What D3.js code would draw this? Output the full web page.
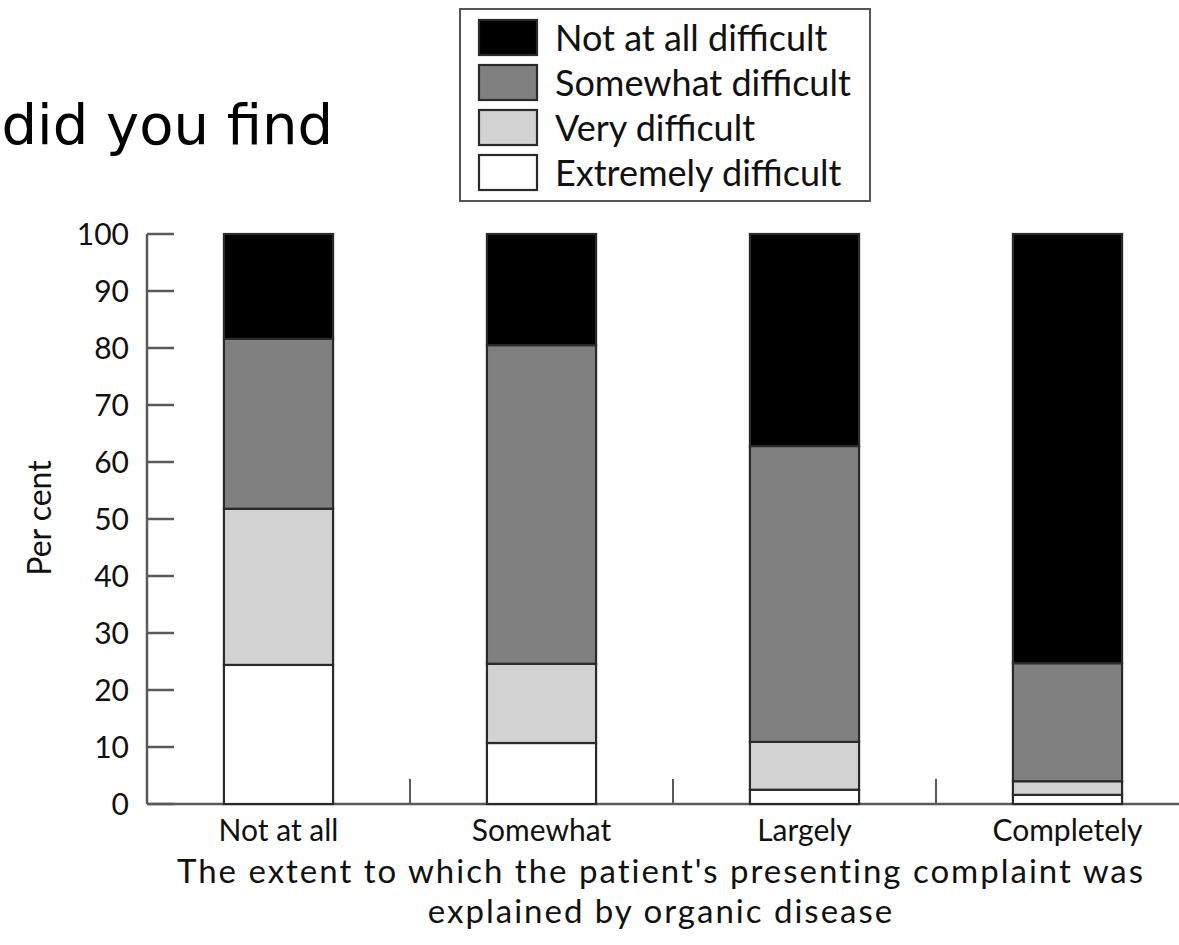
<!DOCTYPE html>
<html><head><meta charset="utf-8">
<script src="https://cdn.jsdelivr.net/npm/d3@7"></script>
<style>body{margin:0;background:#fff}svg{display:block}</style>
</head><body>
<svg id="c" width="1179" height="945"></svg>
<script>
const categories = ["Not at all", "Somewhat", "Largely", "Completely"];
const seriesNames = ["Extremely difficult", "Very difficult", "Somewhat difficult", "Not at all difficult"];
const extremely = [24.4, 10.7, 2.5, 1.6];
const very = [27.4, 13.9, 8.4, 2.4];
const somewhat = [29.8, 55.9, 51.9, 20.7];
const notAtAll = [18.4, 19.5, 37.2, 75.3];
const yTicks = [0, 10, 20, 30, 40, 50, 60, 70, 80, 90, 100];
const legendOrder = ["Not at all difficult", "Somewhat difficult", "Very difficult", "Extremely difficult"];
const colors = {"Not at all difficult": "#000000", "Somewhat difficult": "#808080", "Very difficult": "#d2d2d2", "Extremely difficult": "#ffffff"};

const rows = categories.map((c, i) => ({cat: c, "Extremely difficult": extremely[i], "Very difficult": very[i], "Somewhat difficult": somewhat[i], "Not at all difficult": notAtAll[i]}));
const stack = d3.stack().keys(seriesNames)(rows);

const svg = d3.select("#c");
const font = "Lato, 'Open Sans', sans-serif";
const x = d3.scaleBand().domain(categories).range([147, 1199]).paddingInner(0.585).paddingOuter(0.2925);
const y = d3.scaleLinear().domain([0, 100]).range([804, 234]);

// title fragment
svg.append("text").attr("x", 333).attr("y", 144).attr("text-anchor", "end")
  .attr("font-family", "'DejaVu Sans', Verdana, sans-serif").attr("font-size", 56).attr("fill", "#000")
  .text("did you find");

// y axis
const axisColor = "#5a5a5a";
svg.append("line").attr("x1", 147).attr("x2", 147).attr("y1", y(100)).attr("y2", y(0)).attr("stroke", axisColor).attr("stroke-width", 2.5);
svg.selectAll(".yt").data(yTicks).enter().append("line")
  .attr("x1", 147).attr("x2", 174).attr("y1", d => y(d)).attr("y2", d => y(d)).attr("stroke", axisColor).attr("stroke-width", 2.5);
svg.selectAll(".yl").data(yTicks).enter().append("text")
  .attr("x", 129).attr("y", d => y(d)).attr("dy", "0.36em").attr("text-anchor", "end")
  .attr("font-family", font).attr("font-size", 30).attr("fill", "#111").text(d => d);

// x baseline
svg.append("line").attr("x1", 147).attr("x2", 1199).attr("y1", y(0)).attr("y2", y(0)).attr("stroke", axisColor).attr("stroke-width", 2.5);
const bounds = categories.slice(1).map(c => x(c) - x.step() * x.paddingInner() / 2);
svg.selectAll(".xt").data(bounds).enter().append("line")
  .attr("x1", d => d).attr("x2", d => d).attr("y1", y(0)).attr("y2", y(0) - 25).attr("stroke", axisColor).attr("stroke-width", 2);

// bars
stack.forEach(s => {
  svg.selectAll(null).data(s).enter().append("rect")
    .attr("x", d => x(d.data.cat)).attr("width", x.bandwidth())
    .attr("y", d => y(d[1])).attr("height", d => y(d[0]) - y(d[1]))
    .attr("fill", colors[s.key]).attr("stroke", "#2a2a2a").attr("stroke-width", 2.2);
});

// category labels
svg.selectAll(".cl").data(categories).enter().append("text")
  .attr("x", d => x(d) + x.bandwidth() / 2).attr("y", 841).attr("text-anchor", "middle")
  .attr("font-family", font).attr("font-size", 30).attr("fill", "#111").text(d => d);

// axis titles
svg.append("text").attr("x", 661).attr("y", 883).attr("text-anchor", "middle")
  .attr("font-family", font).attr("font-size", 33).attr("letter-spacing", 2).attr("fill", "#111")
  .text("The extent to which the patient's presenting complaint was");
svg.append("text").attr("x", 661).attr("y", 923).attr("text-anchor", "middle")
  .attr("font-family", font).attr("font-size", 33).attr("letter-spacing", 2).attr("fill", "#111")
  .text("explained by organic disease");
svg.append("text").attr("transform", "translate(51,518) rotate(-90)").attr("text-anchor", "middle")
  .attr("font-family", font).attr("font-size", 32).attr("fill", "#111").text("Per cent");

// legend
const lg = svg.append("g");
lg.append("rect").attr("x", 460).attr("y", 9).attr("width", 410).attr("height", 192)
  .attr("fill", "#fff").attr("stroke", "#555").attr("stroke-width", 2);
legendOrder.forEach((k, i) => {
  lg.append("rect").attr("x", 479).attr("y", 20 + i * 45).attr("width", 58).attr("height", 35)
    .attr("fill", colors[k]).attr("stroke", "#2a2a2a").attr("stroke-width", 2.2);
  lg.append("text").attr("x", 555).attr("y", 38 + i * 45).attr("dy", "0.36em")
    .attr("font-family", font).attr("font-size", 36).attr("fill", "#111").text(k);
});
</script>
</body></html>
